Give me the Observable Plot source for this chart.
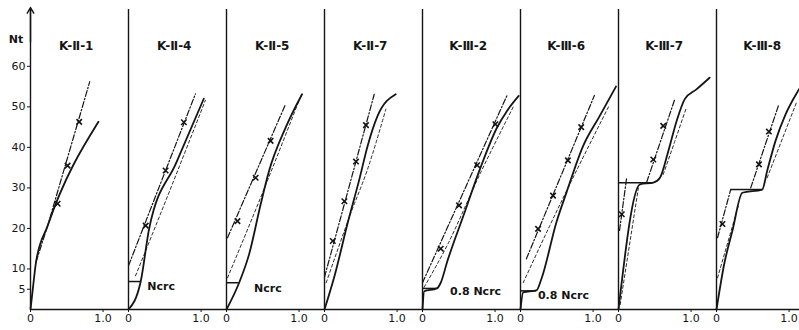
<!DOCTYPE html>
<html><head><meta charset="utf-8">
<script src="https://cdn.jsdelivr.net/npm/d3@7"></script>
<script src="https://cdn.jsdelivr.net/npm/@observablehq/plot@0.6"></script>
<style>
html,body{margin:0;padding:0;background:#fff;overflow:hidden;width:799px;height:330px}
#chart{width:799px;height:330px;overflow:hidden}
#chart svg{max-width:none !important;}
</style>
</head><body><div id="chart"></div>
<script>
// Panels (specimens)
const panels = ["K-Ⅱ-1","K-Ⅱ-4","K-Ⅱ-5","K-Ⅱ-7","K-Ⅲ-2","K-Ⅲ-6","K-Ⅲ-7","K-Ⅲ-8"];
const yTicks = [5,10,20,30,40,50,60];
const xTicks = [0,1];

// Solid curves (one per panel), [x, y]
const solidCurves = [
  [[0,0],[0.032,5.1],[0.077,11.8],[0.237,20.7],[0.936,46.3]],
  [[0,0],[0.168,6.9],[0.284,19.9],[0.66,36.3],[1.037,52.0]],
  [[0,0],[0.174,6.6],[0.311,13.6],[0.470,25.9],[0.585,34.1],[0.813,44.8],[1.041,53.1]],
  [[0,0],[0.137,8.2],[0.320,21.4],[0.480,32.1],[0.593,40.3],[0.730,47.7],[0.981,53.1]],
  [[0,0],[0.023,4.5],[0.196,5.2],[0.251,6.6],[0.342,11.9],[0.571,23.5],[0.799,35.0],[1.027,44.9],[1.164,49.0],[1.325,52.7]],
  [[0,0],[0.037,4.2],[0.220,4.7],[0.289,7.6],[0.496,21.6],[0.634,28.9],[0.859,40.2],[1.086,47.6],[1.315,55.0]],
  [[0,0],[0.297,30.9],[0.479,31.3],[0.571,32.5],[0.685,39.0],[0.799,46.4],[0.913,51.9],[1.073,54.3],[1.256,57.2]],
  [[0,0],[0.105,11.1],[0.219,19.4],[0.356,28.8],[0.630,29.6],[0.698,34.2],[0.813,41.6],[0.950,48.1],[1.109,53.5],[1.30,58.5]]
];

// Dash-dot curves with x markers (null = gap)
const markedCurves = [
  [[0.077,11.8],[0.237,20.7],[0.816,56.2]],
  [[0,10.8],[0.922,53.2]],
  [[0.014,17.7],[0.812,50.6]],
  [[0,8.0],[0.685,53.1]],
  [[0,6.6],[1.164,52.8]],
  [[0.081,12.5],[1.018,52.8]],
  [[0.014,19.5],[0.114,32.7],null,[0.388,31.4],[0.776,51.9]],
  [[0.014,17.7],[0.196,29.6],null,[0.471,30.0],[0.859,50.6]]
];
const markerPoints = [
  [[0.374,26.1],[0.511,35.5],[0.671,46.3]],
  [[0.237,20.7],[0.511,34.3],[0.763,46.2]],
  [[0.151,21.8],[0.402,32.5],[0.607,41.6]],
  [[0.114,16.9],[0.274,26.7],[0.434,36.5],[0.571,45.5]],
  [[0.251,15.0],[0.503,25.7],[0.753,35.6],[1.004,45.7]],
  [[0.242,19.9],[0.448,28.1],[0.653,36.8],[0.836,45.0]],
  [[0.045,23.5],[0.479,37.0],[0.616,45.3]],
  [[0.082,21.1],[0.585,35.8],[0.722,43.9]]
];

// Thin dashed curves
const thinCurves = [
  [],
  [[0.096,8.3],[0.329,18.6],[1.059,51.6]],
  [[0.014,7.8],[0.562,31.7],[0.996,51.4]],
  [[0.023,6.6],[0.365,23.9],[0.593,34.6],[0.845,49.4]],
  [[0.023,5.5],[0.342,15.9],[0.799,33.7],[1.256,50.2]],
  [[0.037,6.6],[0.404,20.7],[1.224,50.4]],
  [[0.023,1.2],[0.274,30.0],null,[0.616,33.3],[0.776,41.5],[0.935,49.8]],
  [[0.014,7.8],[0.30,25.5],null,[0.698,32.5],[1.109,51.4]]
];

// Critical load levels (horizontal marks)
const levelPanels = ["K-Ⅱ-4","K-Ⅱ-5","K-Ⅲ-2","K-Ⅲ-6","K-Ⅲ-7","K-Ⅲ-8"];
const levelValues = [6.9, 6.6, 5.2, 4.6, 31.3, 29.6];
const levelStart  = [0, 0, 0, 0, 0, 0.196];
const levelEnd    = [0.168, 0.174, 0.196, 0.220, 0.479, 0.630];

// Annotation texts
const notePanels = ["K-Ⅱ-4","K-Ⅱ-5","K-Ⅲ-2","K-Ⅲ-6"];
const noteTexts  = ["Ncrc","Ncrc","0.8 Ncrc","0.8 Ncrc"];
const noteX = [0.26, 0.38, 0.38, 0.24];
const noteY = [5.6, 5.3, 4.4, 3.5];

function toRows(curves) {
  return curves.flatMap((pts, i) => pts.map(p => p
    ? {panel: panels[i], x: p[0], y: p[1]}
    : {panel: panels[i], x: NaN, y: NaN}));
}
const solidRows = toRows(solidCurves);
const markedRows = toRows(markedCurves);
const markerRows = toRows(markerPoints);
const thinRows = toRows(thinCurves);
const levelRows = levelPanels.map((p, i) => ({panel: p, y: levelValues[i], x1: levelStart[i], x2: levelEnd[i]}));
const noteRows = notePanels.map((p, i) => ({panel: p, text: noteTexts[i], x: noteX[i], y: noteY[i]}));

const ink = "#151515";
const chart = Plot.plot({
  width: 816, height: 330,
  marginLeft: 27, marginRight: 0, marginTop: 5, marginBottom: 21,
  style: {fontFamily: "DejaVu Sans", fontSize: "11px", color: ink, background: "#fff", maxWidth: "none"},
  fx: {domain: panels, axis: null, paddingInner: 0, paddingOuter: 0},
  x: {domain: [0, 1.35], ticks: xTicks, tickFormat: d => d === 0 ? "0" : "1.0", tickSize: 3, tickPadding: 2, label: null},
  y: {domain: [0, 75], ticks: yTicks, tickSize: 3, tickPadding: 2, label: null},
  marks: [
    Plot.ruleY(panels, {fx: d => d, y: 0, stroke: ink, strokeWidth: 1.5}),
    Plot.ruleX(panels, {fx: d => d, x: 0, y1: 0, y2: 74, stroke: ink, strokeWidth: 1.4}),
    Plot.arrow([panels[0]], {fx: d => d, x1: 0, x2: 0, y1: 66, y2: 74.5, headLength: 7, stroke: ink, strokeWidth: 1.4}),
    Plot.ruleY(levelRows, {fx: "panel", y: "y", x1: "x1", x2: "x2", stroke: ink, strokeWidth: 1.5}),
    Plot.line(thinRows, {fx: "panel", x: "x", y: "y", stroke: ink, strokeWidth: 0.9, strokeDasharray: "3,2.5", curve: "monotone-x"}),
    Plot.line(markedRows, {fx: "panel", x: "x", y: "y", stroke: ink, strokeWidth: 1.2, strokeDasharray: "6,2,1.5,2"}),
    Plot.line(solidRows, {fx: "panel", x: "x", y: "y", stroke: ink, strokeWidth: 1.8, curve: "monotone-x"}),
    Plot.dot(markerRows, {fx: "panel", x: "x", y: "y", symbol: "times", r: 2.6, stroke: ink, strokeWidth: 1.6}),
    Plot.text(panels, {fx: d => d, x: 0.63, y: 65, text: d => d, fontSize: 12, fontWeight: "bold"}),
    Plot.text(noteRows, {fx: "panel", x: "x", y: "y", text: "text", textAnchor: "start", fontSize: 11, fontWeight: "bold"}),
    Plot.text([panels[0]], {fx: d => d, x: -0.2, y: 66.5, text: () => "Nt", fontSize: 11, fontWeight: "bold"})
  ]
});
document.getElementById("chart").appendChild(chart);
</script>
</body></html>
